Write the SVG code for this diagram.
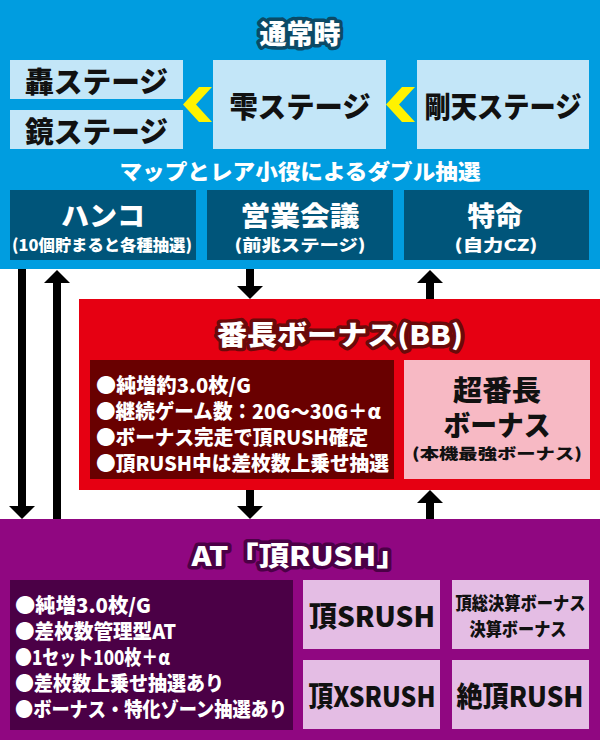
<svg xmlns="http://www.w3.org/2000/svg" width="600" height="740" viewBox="0 0 600 740">
<defs>
<style>
text{font-family:"Noto Sans CJK JP","Noto Sans",sans-serif;font-weight:900;text-anchor:middle;dominant-baseline:central}
.ttl{fill:#fff;font-size:27px;stroke-width:7px;stroke-linejoin:round;paint-order:stroke}
.blk{fill:#111}
.wht{fill:#fff}
.lft{text-anchor:start}
.arr{fill:#000}
</style>
</defs>
<g id="normal">
<rect x="0" y="0" width="600" height="269" fill="#009de0"/>
<text class="ttl" x="300" y="32" stroke="#0b4a66" font-size="28">通常時</text>
<text class="wht" x="300" y="170" font-size="21" textLength="361" lengthAdjust="spacingAndGlyphs">マップとレア小役によるダブル抽選</text>
</g>
<g id="todoroki">
<rect x="10" y="60" width="173" height="39" fill="#c3e6f8"/>
<text class="blk" x="96.5" y="80" font-size="29" textLength="143" lengthAdjust="spacingAndGlyphs">轟ステージ</text>
</g>
<g id="kagami">
<rect x="10" y="110" width="173" height="39" fill="#c3e6f8"/>
<text class="blk" x="96.5" y="130" font-size="29" textLength="143" lengthAdjust="spacingAndGlyphs">鏡ステージ</text>
</g>
<g id="shizuku">
<rect x="213" y="60" width="173" height="89" fill="#c3e6f8"/>
<text class="blk" x="300" y="105" font-size="29" textLength="141" lengthAdjust="spacingAndGlyphs">雫ステージ</text>
</g>
<g id="gouten">
<rect x="417" y="60" width="172" height="89" fill="#c3e6f8"/>
<text class="blk" x="503" y="105" font-size="29" textLength="157" lengthAdjust="spacingAndGlyphs">剛天ステージ</text>
</g>
<g id="hanko">
<rect x="10" y="190" width="186" height="70" fill="#00557a"/>
<text class="wht" x="103" y="214" font-size="27" textLength="84" lengthAdjust="spacingAndGlyphs">ハンコ</text>
<text class="wht" x="102" y="244" font-size="16" textLength="180" lengthAdjust="spacingAndGlyphs">(10個貯まると各種抽選)</text>
</g>
<g id="eigyo">
<rect x="207" y="190" width="186" height="70" fill="#00557a"/>
<text class="wht" x="300" y="214" font-size="27" textLength="119" lengthAdjust="spacingAndGlyphs">営業会議</text>
<text class="wht" x="300" y="244" font-size="16" textLength="131" lengthAdjust="spacingAndGlyphs">(前兆ステージ)</text>
</g>
<g id="tokumei">
<rect x="404" y="190" width="185" height="70" fill="#00557a"/>
<text class="wht" x="495" y="214" font-size="27" textLength="55" lengthAdjust="spacingAndGlyphs">特命</text>
<text class="wht" x="496" y="244" font-size="16" textLength="83" lengthAdjust="spacingAndGlyphs">(自力CZ)</text>
</g>
<g id="bancho-bonus">
<rect x="79" y="299" width="521" height="191" fill="#e60012"/>
<text class="ttl" x="340" y="333" stroke="#6a0a0a" textLength="246" lengthAdjust="spacingAndGlyphs">番長ボーナス(BB)</text>
<rect x="90" y="360" width="304" height="119" fill="#690000"/>
<text class="wht lft" x="96" y="384" font-size="20" textLength="155" lengthAdjust="spacingAndGlyphs">●純増約3.0枚/G</text>
<text class="wht lft" x="96" y="410" font-size="20" textLength="285" lengthAdjust="spacingAndGlyphs">●継続ゲーム数：20G～30G＋α</text>
<text class="wht lft" x="96" y="436" font-size="20" textLength="272" lengthAdjust="spacingAndGlyphs">●ボーナス完走で頂RUSH確定</text>
<text class="wht lft" x="96" y="462" font-size="20" textLength="293" lengthAdjust="spacingAndGlyphs">●頂RUSH中は差枚数上乗せ抽選</text>
</g>
<g id="super-bancho">
<rect x="404" y="360" width="186" height="119" fill="#f7b9c4"/>
<text class="blk" x="497" y="389" font-size="28" textLength="88" lengthAdjust="spacingAndGlyphs">超番長</text>
<text class="blk" x="497" y="424" font-size="28" textLength="107" lengthAdjust="spacingAndGlyphs">ボーナス</text>
<text class="blk" x="497" y="452" font-size="15" textLength="170" lengthAdjust="spacingAndGlyphs">(本機最強ボーナス)</text>
</g>
<g id="at-rush">
<rect x="0" y="519" width="600" height="221" fill="#900781"/>
<text class="ttl" x="299" y="554" stroke="#4b0046" textLength="215" lengthAdjust="spacingAndGlyphs">AT「頂RUSH」</text>
<rect x="10" y="580" width="283" height="150" fill="#4b0046"/>
<text class="wht lft" x="15" y="604" font-size="20" textLength="136" lengthAdjust="spacingAndGlyphs">●純増3.0枚/G</text>
<text class="wht lft" x="15" y="630" font-size="20" textLength="161" lengthAdjust="spacingAndGlyphs">●差枚数管理型AT</text>
<text class="wht lft" x="15" y="656" font-size="20" textLength="155" lengthAdjust="spacingAndGlyphs">●1セット100枚＋α</text>
<text class="wht lft" x="15" y="682" font-size="20" textLength="209" lengthAdjust="spacingAndGlyphs">●差枚数上乗せ抽選あり</text>
<text class="wht lft" x="15" y="708" font-size="20" textLength="272" lengthAdjust="spacingAndGlyphs">●ボーナス・特化ゾーン抽選あり</text>
</g>
<g id="itadaki-s">
<rect x="303" y="580" width="137" height="69" fill="#e4bde4"/>
<text class="blk" x="372" y="615" font-size="28" textLength="126" lengthAdjust="spacingAndGlyphs">頂SRUSH</text>
</g>
<g id="kessan">
<rect x="452" y="580" width="137" height="69" fill="#e4bde4"/>
<text class="blk" x="520.5" y="602" font-size="18" textLength="130" lengthAdjust="spacingAndGlyphs">頂総決算ボーナス</text>
<text class="blk" x="518" y="628" font-size="18" textLength="97" lengthAdjust="spacingAndGlyphs">決算ボーナス</text>
</g>
<g id="itadaki-xs">
<rect x="303" y="660" width="137" height="69" fill="#e4bde4"/>
<text class="blk" x="372" y="695" font-size="28" textLength="127" lengthAdjust="spacingAndGlyphs">頂XSRUSH</text>
</g>
<g id="zecchou">
<rect x="452" y="660" width="137" height="69" fill="#e4bde4"/>
<text class="blk" x="520" y="695" font-size="28" textLength="127" lengthAdjust="spacingAndGlyphs">絶頂RUSH</text>
</g>
<g id="connectors">
<polygon fill="#fff200" points="199,87 212,87 196,104.5 212,122 199,122 183,104.5"/>
<polygon fill="#fff200" points="402,87 415,87 399,104.5 415,122 402,122 386,104.5"/>
<rect class="arr" x="18" y="269" width="8" height="238"/>
<polygon class="arr" points="9,506 35,506 22,519"/>
<rect class="arr" x="53" y="282" width="8" height="237"/>
<polygon class="arr" points="44,283 70,283 57,270"/>
<rect class="arr" x="246" y="269" width="8" height="18"/>
<polygon class="arr" points="237,286 263,286 250,299"/>
<rect class="arr" x="426" y="282" width="8" height="17"/>
<polygon class="arr" points="417,283 443,283 430,270"/>
<rect class="arr" x="246" y="490" width="8" height="17"/>
<polygon class="arr" points="237,506 263,506 250,519"/>
<rect class="arr" x="426" y="502" width="8" height="17"/>
<polygon class="arr" points="417,503 443,503 430,490"/>
</g>
</svg>
